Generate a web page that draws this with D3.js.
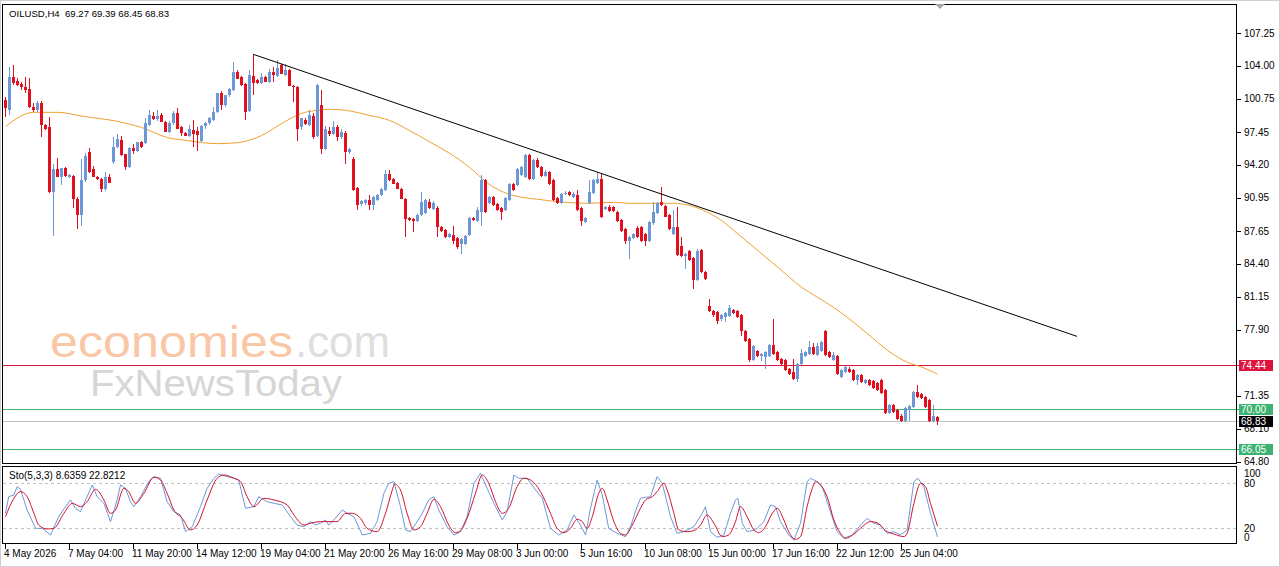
<!DOCTYPE html>
<html lang="en">
<head>
<meta charset="utf-8">
<title>OILUSD,H4</title>
<style>
  body { margin: 0; background: #fff; }
  svg { display: block; }
  text { font-family: "Liberation Sans", Arial, sans-serif; }
</style>
<script src="https://d3js.org/d3.v7.min.js"></script>
</head>
<body>
<script>
// OHLC per H4 bar: [open, high, low, close]
const candles = [
  [100.6,100.9,98.9,99.8],[99.6,103.9,99.1,102.9],[102.9,104.1,102.1,102.3],[102.5,102.8,102.0,102.1],
  [102.2,102.4,101.6,101.9],[101.9,102.9,101.3,101.6],[101.7,102.8,99.8,99.9],[99.9,100.3,99.4,99.6],
  [99.6,100.5,99.4,100.3],[100.3,100.5,97.0,98.1],[98.1,98.2,97.7,97.8],[97.9,98.9,91.4,91.5],
  [91.5,94.3,87.2,93.8],[93.8,94.9,93.0,93.0],[93.0,93.9,92.2,93.9],[93.9,94.0,93.0,93.1],
  [93.0,93.3,92.9,93.2],[93.1,93.2,89.9,90.8],[90.8,91.0,87.9,89.2],[89.2,94.8,88.2,92.7],
  [92.7,95.4,92.5,95.1],[95.5,95.9,93.4,93.5],[93.8,94.1,93.0,93.0],[93.0,93.1,92.7,92.8],
  [92.8,92.9,91.5,91.8],[91.8,93.5,91.6,93.0],[93.0,93.3,92.4,92.4],[94.5,97.0,94.3,96.0],
  [96.0,97.3,95.9,96.8],[96.7,97.1,95.1,95.2],[95.3,95.3,93.7,94.0],[94.0,96.0,93.9,95.9],
  [95.9,96.3,95.3,95.6],[95.6,96.5,95.5,96.5],[96.5,96.6,95.9,96.0],[96.4,98.8,96.3,98.3],
  [98.1,99.6,98.0,99.1],[99.0,99.4,98.6,98.7],[98.7,99.6,98.5,99.0],[99.1,99.3,98.4,98.4],
  [98.4,98.5,97.5,97.5],[97.5,98.5,97.4,98.3],[98.3,99.5,98.1,99.3],[99.3,99.8,97.8,97.8],
  [97.9,98.0,97.1,97.4],[97.4,97.5,97.1,97.1],[97.1,98.1,97.0,97.8],[97.7,98.6,96.0,97.3],
  [97.6,97.9,95.6,97.2],[96.6,98.1,96.5,98.0],[98.0,98.4,97.8,98.3],[98.3,98.9,98.1,98.8],
  [98.6,99.9,98.5,99.4],[99.4,101.3,99.3,101.3],[101.3,101.5,99.6,100.1],[100.1,101.1,99.9,101.1],
  [101.1,101.8,100.9,101.7],[101.6,104.4,101.5,103.4],[103.4,103.6,102.7,102.7],[102.9,103.0,102.0,102.1],
  [102.2,102.3,98.6,99.4],[99.5,103.6,99.4,103.1],[103.0,105.1,101.1,102.3],[102.6,102.7,102.2,102.3],
  [102.3,103.3,102.2,102.9],[102.9,103.0,102.4,102.4],[102.4,103.7,102.3,103.4],[103.4,103.9,102.4,103.1],
  [103.0,104.6,102.9,103.8],[104.1,104.2,103.2,103.2],[103.1,104.2,103.0,103.6],[103.6,103.7,102.0,102.0],
  [102.0,102.1,100.4,101.9],[101.9,102.0,96.6,97.8],[97.9,98.8,97.7,98.8],[98.6,98.8,98.1,98.2],
  [98.1,99.6,98.0,99.1],[99.0,99.3,96.8,97.0],[97.1,102.2,97.0,102.1],[100.1,101.6,95.3,95.8],
  [95.8,98.0,95.7,97.8],[97.6,97.9,97.1,97.3],[97.3,98.5,97.2,97.9],[97.9,98.1,96.6,97.0],
  [97.0,97.8,96.8,97.5],[97.4,97.6,94.3,95.5],[95.5,95.9,95.3,95.8],[94.8,95.0,91.6,91.7],
  [91.9,92.0,89.7,90.2],[90.3,90.7,90.1,90.6],[90.4,90.8,90.2,90.7],[90.7,91.2,89.7,90.2],
  [90.2,91.1,89.7,91.0],[90.7,91.3,90.6,91.2],[91.2,91.9,91.1,91.8],[91.7,93.7,91.6,93.3],
  [93.3,93.7,92.6,92.7],[92.8,92.9,92.3,92.35],[92.4,92.5,91.8,91.85],[91.85,91.9,90.8,90.85],
  [90.85,90.9,87.1,88.8],[88.9,89.0,88.6,88.7],[88.8,88.9,87.6,88.6],[88.6,89.3,88.5,89.2],
  [89.2,91.5,89.1,90.5],[89.4,90.8,89.3,90.7],[90.5,90.8,89.8,89.9],[89.8,90.6,89.7,90.4],
  [89.9,90.1,87.1,88.1],[88.1,88.2,87.6,87.7],[87.8,87.9,87.0,87.1],[87.1,87.5,87.0,87.4],
  [87.3,88.2,86.4,86.7],[87.0,87.1,85.9,86.1],[86.4,87.0,85.4,86.9],[86.4,87.3,86.3,87.2],
  [87.3,89.0,87.2,88.9],[88.9,89.0,88.6,88.7],[88.6,90.0,88.5,89.7],[89.5,93.2,88.2,92.7],
  [92.7,92.8,89.4,89.5],[90.4,91.1,90.3,91.0],[91.0,91.1,90.1,90.2],[90.3,90.4,89.6,89.7],
  [89.9,90.0,88.7,89.5],[89.7,91.0,89.6,90.9],[90.7,92.4,90.6,92.3],[92.3,92.4,91.6,91.7],
  [92.2,93.9,92.1,93.8],[93.2,94.1,93.1,94.0],[93.0,95.3,92.9,95.2],[95.2,95.3,92.7,92.8],
  [92.8,94.8,92.7,94.7],[94.7,94.9,93.9,94.0],[94.0,94.1,93.0,93.1],[93.1,93.7,93.0,93.5],
  [93.5,93.6,92.2,92.3],[92.7,92.8,90.6,90.7],[90.9,91.0,90.3,90.4],[90.4,91.4,90.3,91.3],
  [91.3,91.6,91.2,91.4],[91.5,91.6,91.1,91.2],[91.0,91.5,90.9,91.3],[91.2,91.7,89.6,89.7],
  [89.9,90.0,88.2,88.6],[88.5,89.0,88.4,88.9],[90.4,92.7,90.3,91.5],[91.4,92.8,91.3,92.7],
  [92.4,93.5,92.3,92.8],[92.8,93.3,88.9,89.0],[89.8,90.1,89.7,90.0],[90.0,90.2,89.5,89.6],
  [90.0,90.1,89.5,89.6],[89.5,89.6,88.5,88.6],[88.7,88.8,87.6,87.7],[87.9,88.0,86.4,86.7],
  [86.7,87.2,84.9,87.1],[87.0,87.5,86.9,87.4],[88.0,88.2,87.0,87.1],[88.1,88.2,86.6,86.7],
  [87.4,87.5,86.2,86.7],[86.7,88.6,86.6,88.5],[88.4,90.5,88.3,89.5],[89.4,90.5,89.3,90.4],
  [90.5,92.0,90.1,90.2],[90.1,90.2,89.0,89.05],[89.2,89.3,87.8,87.9],[87.4,89.7,87.3,88.1],
  [88.1,90.0,85.2,85.3],[86.2,87.1,85.1,85.2],[85.2,85.5,83.9,85.4],[85.7,85.8,84.7,84.8],
  [85.0,85.1,81.95,82.8],[82.8,85.9,82.7,85.7],[85.8,85.9,83.5,83.6],[83.6,83.7,82.8,82.9],
  [80.2,80.9,79.6,79.7],[79.7,79.8,79.1,79.3],[79.6,79.7,78.5,78.8],[78.9,79.4,78.8,79.3],
  [79.1,79.6,78.7,79.5],[79.2,80.3,79.1,80.0],[79.8,79.9,79.4,79.5],[79.7,79.8,79.0,79.1],
  [79.3,79.4,77.3,77.8],[77.8,77.9,76.7,76.8],[77.0,77.1,74.7,74.9],[74.9,76.4,74.8,76.3],
  [75.8,75.9,75.2,75.3],[75.3,75.6,74.8,75.5],[75.2,75.8,74.0,75.7],[75.3,76.5,75.2,76.4],
  [76.4,78.9,75.4,75.5],[75.7,75.8,74.8,74.9],[75.0,75.1,74.4,74.5],[74.9,75.0,73.8,73.9],
  [74.0,74.1,73.4,73.5],[73.7,75.0,72.9,73.0],[73.0,74.6,72.7,74.5],[74.5,76.0,74.4,75.6],
  [75.3,75.8,75.2,75.7],[75.5,76.8,75.4,76.2],[76.2,76.6,75.4,75.5],[75.4,76.6,75.3,76.3],
  [75.8,76.8,75.7,76.7],[77.8,77.9,75.3,75.4],[75.7,75.8,75.1,75.2],[74.9,75.7,74.8,75.4],
  [75.3,75.4,73.4,73.5],[73.2,74.0,73.1,73.9],[73.7,74.3,73.6,74.2],[74.0,74.2,73.6,73.7],
  [73.9,74.0,72.8,72.9],[72.9,73.5,72.4,73.4],[73.4,73.5,72.6,72.7],[72.6,73.0,72.5,72.9],
  [72.9,73.0,72.3,72.4],[72.8,72.9,72.0,72.1],[72.6,72.7,71.8,71.9],[72.9,73.0,71.5,71.6],
  [71.9,72.0,69.5,69.6],[69.6,70.5,69.5,70.4],[70.4,70.5,69.6,69.7],[69.9,70.0,69.0,69.1],
  [69.4,69.5,68.8,68.9],[68.9,70.2,68.8,70.1],[69.9,70.4,68.9,70.3],[70.2,71.8,70.1,71.7],
  [71.7,72.4,71.1,71.2],[71.5,71.6,71.0,71.1],[71.2,71.3,70.1,70.2],[70.9,71.0,68.8,68.9],
  [68.9,70.4,68.8,69.4],[69.27,69.39,68.45,68.83]
];

// moving average (orange), [bar, price]
const movingAvg = [
  [0,98.0],[7,99.4],[13,99.4],[19.5,99.0],[28,98.5],[34,97.9],[40.5,96.9],[45.5,96.6],[53,96.3],
  [58,96.4],[64,97.1],[69.5,98.4],[74,99.3],[78,99.6],[81,99.7],[85,99.6],[91,99.1],[96,98.6],
  [101,97.6],[105.5,96.6],[111,95.35],[116,93.96],[120.5,92.4],[124.5,91.5],[129,91.0],[133,90.8],
  [139.5,90.5],[146,90.4],[152,90.5],[156,90.4],[162,90.4],[167,90.4],[174.5,89.7],[179,88.7],
  [183,87.4],[188,85.75],[193,84.1],[199,82.1],[203,81.1],[207,80.1],[210.5,79.1],[215.5,77.5],
  [220.5,75.85],[225.5,74.66],[229,74.2],[233,73.5]
];

// stochastic %K (blue) and %D (red), [bar, value]
const stochK = [
  [0,40],[0.8,62.2],[2.1,64.4],[2.9,75.5],[3.75,72],[5.4,44.4],[7.5,20],[9.2,20],[11.25,11.1],[13.3,35.5],
  [15,48.9],[16.25,57.8],[17.5,46.7],[18.75,42.2],[20.4,62.2],[21.7,77.8],[22.9,62.2],[24.6,53.3],
  [26.25,28.9],[27.9,57.8],[28.75,77.8],[30,73.3],[31.25,55.5],[32.1,48.9],[33.75,62.2],[35.8,82.2],
  [37.1,88.9],[38.75,86.7],[40.4,55.5],[42.1,42.2],[43.75,37.8],[45,15.5],[46.7,22.2],[48.75,48.9],
  [50.4,73.3],[52.1,86.7],[53.3,92.4],[55.4,88.9],[57.1,86.7],[58.3,84.4],[60,46.7],[62.1,48.9],
  [63.3,62.2],[65.4,55.5],[67.1,53.3],[69.2,51.1],[71.25,35.5],[72.9,24.4],[74.6,22.2],[76.25,28.9],
  [77.5,24.4],[78.75,27],[80,31.1],[80.8,24.4],[82.1,31.1],[84.2,44.4],[85.4,40],[87.1,35.5],
  [89.2,11.1],[91.25,13.3],[92.9,28.9],[94.6,66.7],[95.8,80],[97.1,82.2],[98.75,48.9],[100,17.8],
  [101.25,15.5],[102.9,28.9],[104.2,40],[105.8,57.8],[107.1,62.2],[108.3,44.4],[110.4,22.2],
  [112.1,11.1],[113.75,15.5],[115.4,35.5],[117.1,80],[118.75,93.3],[120.4,73.3],[122.1,53.3],
  [124.2,31.1],[125.4,42.2],[127.1,91.1],[128.3,86.7],[130.4,86.7],[132.5,71.1],[134.2,60],
  [136.25,20],[138.3,11.1],[140.4,17.8],[142.1,37.8],[143.75,24.4],[145,11.1],[146.25,46.7],
  [147.9,84.4],[149.2,64.4],[150.8,20],[152.9,13.3],[155,8.9],[156.25,22.2],[157.9,48.9],
  [158.75,60],[160,61.3],[161.25,62.2],[162.9,88.9],[164.2,80],[166.25,35.5],[167.9,13.3],
  [169.6,15.5],[172.1,22.2],[174.2,40],[175,48.9],[176.25,15.5],[177.9,8],[179.6,11.1],
  [181.25,40],[182.5,57.8],[183.1,60],[184.2,26.7],[185.4,15.5],[187.5,17.8],[189.6,28.9],
  [191.25,51.1],[192.5,48.9],[193.75,28.9],[195.8,11.1],[197.1,4.4],[198.75,26.7],[200.4,82.2],
  [201.25,86.7],[202.9,82.2],[204.2,75.5],[205.8,48.9],[207.9,15.5],[209.6,6.7],[211.7,11.1],
  [213.75,24.4],[215.4,33.3],[217.1,26.7],[218.75,24.4],[220.4,13.3],[222.1,15.5],[223.75,11.1],
  [225.4,17.8],[227.1,82.2],[228.1,86.7],[229.6,75.5],[231.25,40],[233,8.6]
];
const stochD = [
  [0,35.5],[2.1,60],[3.75,68.9],[5.4,62.2],[7.1,40],[8.3,24.4],[10.4,19.1],[12.1,20],[14.6,40],
  [16.7,53.3],[18.75,48.9],[20.4,55.5],[22.5,72],[24.6,57.8],[26.25,40],[27.5,44.4],[29.6,73.3],
  [30.8,68.9],[32.5,53.3],[34.6,66.7],[37.1,88],[38.75,84.4],[40.4,66.7],[42.1,44.4],[44.2,33.3],
  [46.25,17.8],[47.9,24.4],[50.4,57.8],[52.9,86.7],[54.6,91.1],[57.1,86.7],[58.75,82.2],[60.4,62.2],
  [62.1,48.9],[64.6,60],[67.1,57.8],[70.4,51.1],[72.1,37.8],[74.6,24.4],[76.25,26.7],[78.75,28.9],
  [80.4,28.9],[82.9,28.9],[85,40],[86.7,40],[88.75,33.3],[90.4,20],[92.9,15.5],[95,40],[96.7,71.1],
  [97.25,79.1],[98.75,71.1],[100.4,40],[102.1,17.8],[103.75,22.2],[105.4,40],[107.1,58.7],
  [108.75,48.9],[110.8,24.4],[112.5,14.2],[113.75,16.9],[115.4,33.3],[117.5,66.7],[119.2,91.1],
  [120.8,80],[122.5,55.5],[124.2,40],[125.8,46.7],[127.9,75.5],[129.6,86.7],[131.25,84.4],
  [133.75,68.9],[136.25,40],[137.9,20],[139.6,14.2],[141.25,20],[142.9,32],[144.2,28.9],[145.4,20],
  [146.7,35.5],[148.3,66.7],[149.2,73.3],[150.4,57.8],[152.1,28.9],[153.75,13.3],[155,11.1],
  [156.7,24.4],[158.75,46.7],[160,57.8],[161.7,62.2],[162.9,68.9],[164.6,80],[165.4,71.1],
  [167.1,40],[168.3,17.8],[170.4,15.5],[172.1,16.9],[173.75,24.4],[175.4,37.8],[177.1,26.7],
  [179.2,8.9],[180.8,11.1],[182.5,28.9],[183.75,48.9],[185.4,35.5],[187.1,17.8],[188.3,14.2],
  [190,22.2],[191.7,40],[192.9,46.7],[194.6,31.1],[195.8,15.5],[197.5,5.3],[198.75,8.9],
  [200.4,48.9],[201.7,73.3],[202.5,82.2],[203.75,77.8],[205.4,62.2],[207.1,31.1],[208.75,13.3],
  [210,6.7],[212.1,12.4],[214.2,22.2],[216.25,28.9],[217.9,27.5],[220,16.9],[222.1,12.4],
  [224.6,8.9],[225.4,13.3],[227.1,53.3],[228.75,80],[230,75.5],[231.25,53.3],[233,22.8]
];

const trendLine = [[62, 105.15], [268, 77.23]];

const levels = [74.44, 70.00, 68.83, 66.05];
const levelColors = ["#dc143c", "#3cb371", "#c0c0c0", "#3cb371"];
const levelBoxColors = ["#dc143c", "#3cb371", "#000000", "#3cb371"];

const priceTicks = [107.25, 104.00, 100.75, 97.45, 94.20, 90.95, 87.65, 84.40, 81.15, 77.90, 71.35, 68.10, 64.80];
const stochTicks = [100, 80, 20, 0];
const stochLevels = [80, 20];
const timeLabels = ["4 May 2026", "7 May 04:00", "11 May 20:00", "14 May 12:00", "19 May 04:00",
  "21 May 20:00", "26 May 16:00", "29 May 08:00", "3 Jun 00:00", "5 Jun 16:00", "10 Jun 08:00",
  "15 Jun 00:00", "17 Jun 16:00", "22 Jun 12:00", "25 Jun 04:00"];
const barsPerLabel = 16;

const W = 1280, H = 567;
const left = 3, right = 1236, mainTop = 4, mainBottom = 463, stTop = 466, stBottom = 543;
const bull = "#6c98d8", bear = "#e0101e";

const svg = d3.select("body").append("svg")
  .attr("width", W).attr("height", H);

svg.append("rect").attr("x", 0.5).attr("y", 0.5).attr("width", W - 1).attr("height", H - 1)
  .attr("fill", "#fff").attr("stroke", "#cfcfcf");

const x = d3.scaleLinear().domain([0, 1]).range([5, 9]);
const y = d3.scaleLinear().domain([64.70, 110.12]).range([mainBottom, mainTop]);
const ys = d3.scaleLinear().domain([0, 100]).range([543.3, 468.3]);

svg.append("clipPath").attr("id", "mainClip").append("rect")
  .attr("x", left).attr("y", mainTop).attr("width", right - left).attr("height", mainBottom - mainTop);
svg.append("clipPath").attr("id", "stClip").append("rect")
  .attr("x", left).attr("y", stTop).attr("width", right - left).attr("height", stBottom - stTop);

// watermark
const wm = svg.append("g").style("font-family", "Lato, 'Open Sans', sans-serif");
wm.append("text").attr("x", 50).attr("y", 357).attr("font-size", 44)
  .attr("textLength", 243).attr("lengthAdjust", "spacingAndGlyphs")
  .attr("fill", "#f9c7a5").text("economies");
wm.append("text").attr("x", 295).attr("y", 357).attr("font-size", 44)
  .attr("textLength", 95).attr("lengthAdjust", "spacingAndGlyphs")
  .attr("fill", "#dedede").text(".com");
wm.append("text").attr("x", 90).attr("y", 396).attr("font-size", 36)
  .attr("textLength", 252).attr("lengthAdjust", "spacingAndGlyphs")
  .attr("fill", "#d6d6d6").text("FxNewsToday");

// horizontal levels (drawn as thin filled bands so the colour stays solid)
svg.append("g").selectAll("rect").data(levels).join("rect")
  .attr("x", left).attr("width", 1239 - left)
  .attr("y", d => Math.round(y(d))).attr("height", 1)
  .style("fill", (d, i) => levelColors[i]);

// moving average
svg.append("path").datum(movingAvg)
  .attr("clip-path", "url(#mainClip)")
  .attr("fill", "none").attr("stroke", "#f0a030").attr("stroke-width", 1)
  .attr("d", d3.line().x(d => x(d[0]) + 0.5).y(d => y(d[1])).curve(d3.curveMonotoneX));

// candles
const cg = svg.append("g").attr("shape-rendering", "crispEdges");
cg.selectAll("line").data(candles).join("line")
  .attr("x1", (d, i) => Math.round(x(i)) + 0.5).attr("x2", (d, i) => Math.round(x(i)) + 0.5)
  .attr("y1", d => y(d[1])).attr("y2", d => y(d[2]))
  .attr("stroke", d => d[3] >= d[0] ? bull : bear);
cg.selectAll("rect").data(candles).join("rect")
  .attr("x", (d, i) => Math.round(x(i)) - 1)
  .attr("width", 3)
  .attr("y", d => y(Math.max(d[0], d[3])))
  .attr("height", d => Math.max(1, Math.abs(y(d[0]) - y(d[3]))))
  .attr("fill", d => d[3] >= d[0] ? bull : bear);

// trend line
svg.append("line").attr("clip-path", "url(#mainClip)")
  .attr("x1", x(trendLine[0][0])).attr("y1", y(trendLine[0][1]))
  .attr("x2", x(trendLine[1][0])).attr("y2", y(trendLine[1][1]))
  .attr("stroke", "#000").attr("stroke-width", 1);

// frames
svg.append("rect").attr("x", left - 0.5).attr("y", mainTop + 0.5)
  .attr("width", right - left + 1).attr("height", mainBottom - mainTop)
  .attr("fill", "none").attr("stroke", "#000");
svg.append("rect").attr("x", left - 0.5).attr("y", stTop + 0.5)
  .attr("width", right - left + 1).attr("height", stBottom - stTop)
  .attr("fill", "none").attr("stroke", "#000");

// shift marker
svg.append("path").attr("d", "M935,4 L945,4 L940,9 Z").attr("fill", "#a8a8a8");

// header
svg.append("text").attr("x", 9).attr("y", 17).attr("font-size", 9.6).attr("fill", "#000")
  .style("white-space", "pre").text("OILUSD,H4  69.27 69.39 68.45 68.83");

// price axis
const pa = svg.append("g");
pa.selectAll("line").data(priceTicks).join("line")
  .attr("x1", 1237).attr("x2", 1241)
  .attr("y1", d => Math.round(y(d)) + 0.5).attr("y2", d => Math.round(y(d)) + 0.5)
  .attr("stroke", "#000").attr("shape-rendering", "crispEdges");
pa.selectAll("text").data(priceTicks).join("text")
  .attr("x", 1244).attr("y", d => y(d) + 3.5)
  .attr("font-size", 10).attr("fill", "#000")
  .text(d => d.toFixed(2));

// level labels
const lb = svg.append("g");
lb.selectAll("rect").data(levels).join("rect")
  .attr("x", 1239).attr("y", d => Math.round(y(d)) - 5).attr("width", 34).attr("height", 11)
  .attr("fill", (d, i) => levelBoxColors[i]);
lb.selectAll("text").data(levels).join("text")
  .attr("x", 1241).attr("y", d => Math.round(y(d)) + 4)
  .attr("font-size", 10).attr("fill", "#fff")
  .text(d => d.toFixed(2));

// stochastic panel
svg.append("g").selectAll("line").data(stochLevels).join("line")
  .attr("x1", left).attr("x2", right)
  .attr("y1", d => Math.round(ys(d)) + 0.5).attr("y2", d => Math.round(ys(d)) + 0.5)
  .attr("stroke", "#c0c0c0").attr("stroke-dasharray", "3,3");

const stl = d3.line().x(d => x(d[0]) + 0.5).y(d => ys(d[1]));
svg.append("path").datum(stochK).attr("clip-path", "url(#stClip)")
  .attr("fill", "none").attr("stroke", "#6c98d8").attr("stroke-width", 1)
  .attr("d", stl);
svg.append("path").datum(stochD).attr("clip-path", "url(#stClip)")
  .attr("fill", "none").attr("stroke", "#d2122c").attr("stroke-width", 1)
  .attr("d", stl.curve(d3.curveMonotoneX));

svg.append("text").attr("x", 9).attr("y", 479).attr("font-size", 10).attr("fill", "#000")
  .text("Sto(5,3,3) 8.6359 22.8212");

svg.append("g").selectAll("text").data(stochTicks).join("text")
  .attr("x", 1244).attr("y", d => Math.min(537, Math.max(473, ys(d))) + 3.5)
  .attr("font-size", 10).attr("fill", "#000")
  .text(d => d);

// time axis
const ta = svg.append("g");
ta.selectAll("line").data(timeLabels).join("line")
  .attr("x1", (d, i) => Math.round(x(i * barsPerLabel)) + 0.5)
  .attr("x2", (d, i) => Math.round(x(i * barsPerLabel)) + 0.5)
  .attr("y1", stBottom + 1).attr("y2", stBottom + 6)
  .attr("stroke", "#000").attr("shape-rendering", "crispEdges");
ta.selectAll("text").data(timeLabels).join("text")
  .attr("x", (d, i) => x(i * barsPerLabel) - 1).attr("y", 557)
  .attr("font-size", 10).attr("fill", "#000")
  .text(d => d);
</script>
</body>
</html>
